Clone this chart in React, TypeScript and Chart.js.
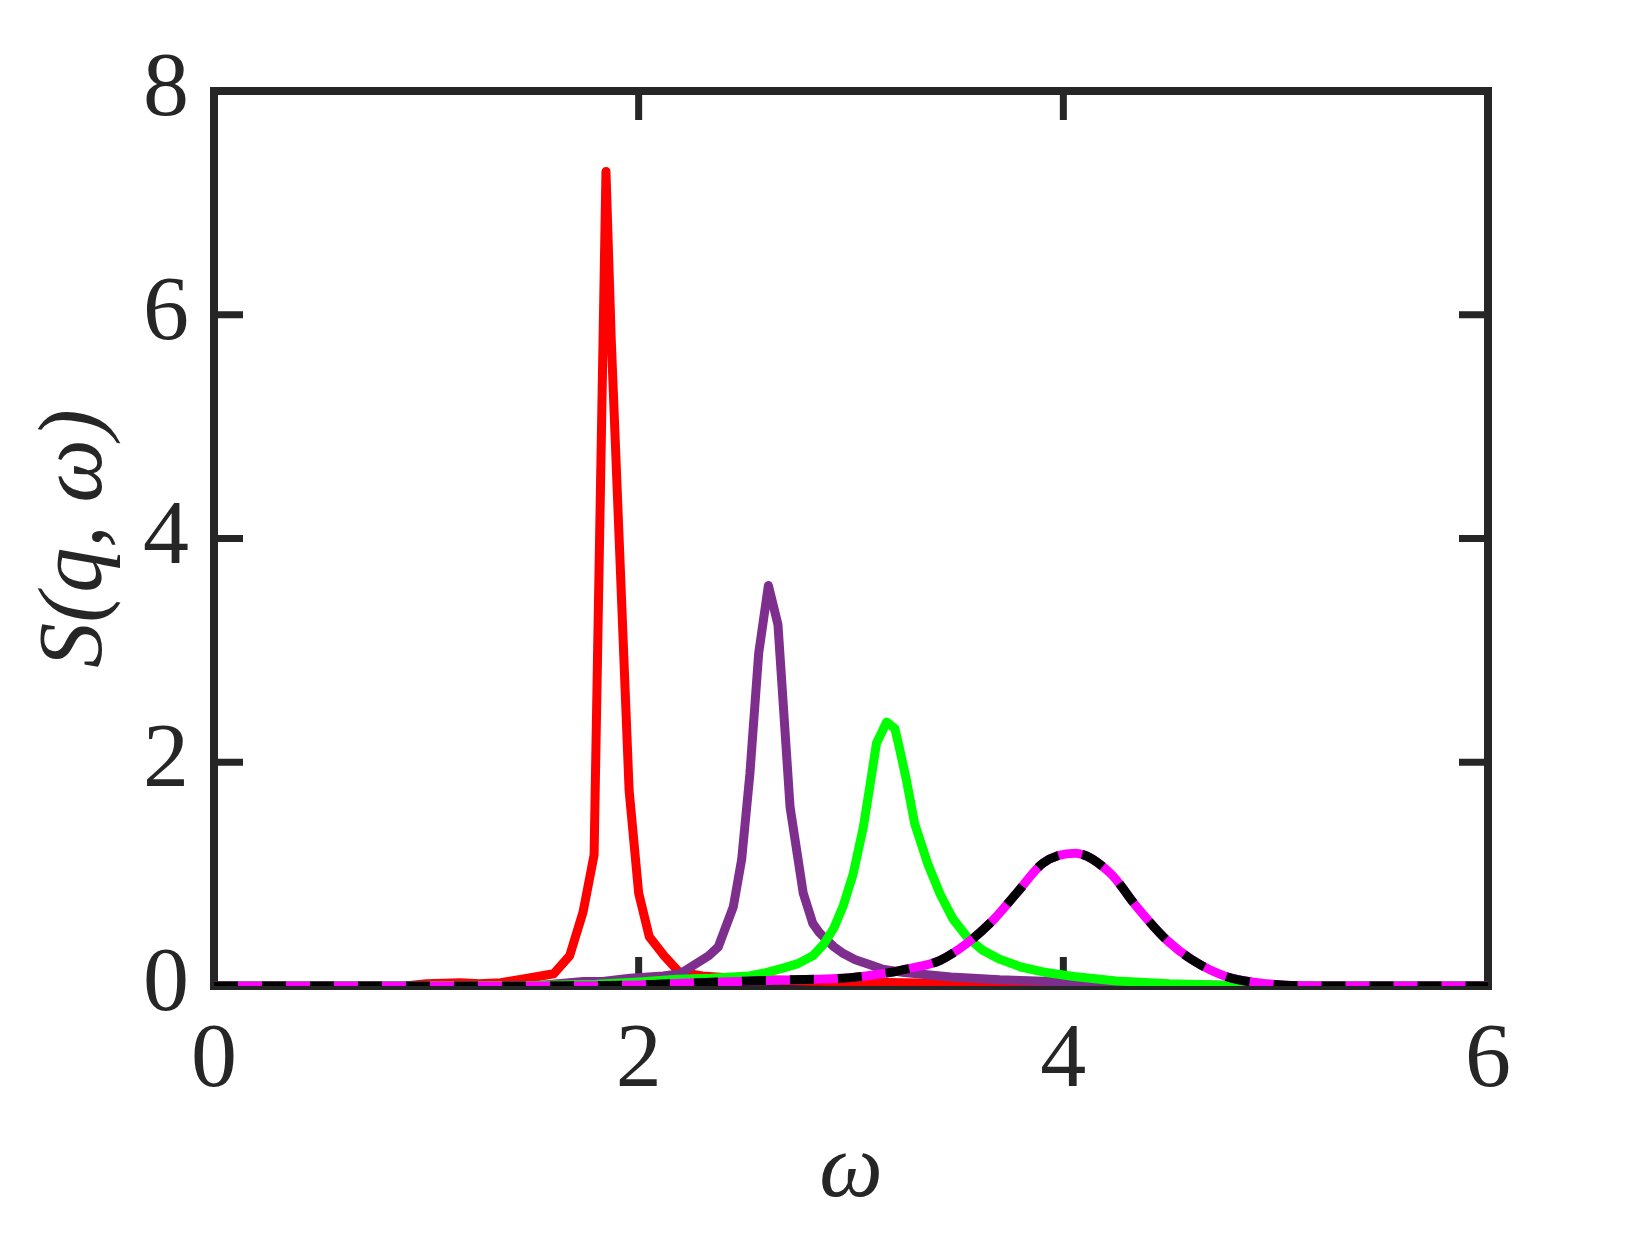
import React, { useEffect, useRef } from "react";
import { Chart, registerables } from "chart.js";

Chart.register(...registerables);

// ---- data ----
const redW = [0, 0.9, 1.0, 1.16, 1.25, 1.35, 1.45, 1.6, 1.675, 1.738, 1.79, 1.846, 1.871, 1.955, 2.0, 2.05, 2.12, 2.19, 2.3, 2.45, 2.7, 3.0, 3.5, 4.0, 4.5, 5.0, 6.0];
const redS = [0, 0, 0.02, 0.03, 0.02, 0.03, 0.06, 0.11, 0.27, 0.66, 1.17, 7.28, 5.77, 1.75, 0.83, 0.44, 0.27, 0.125, 0.09, 0.07, 0.05, 0.035, 0.022, 0.014, 0.008, 0, 0];

const purpleW = [0, 1.5, 1.74, 1.83, 1.96, 2.115, 2.195, 2.33, 2.375, 2.446, 2.485, 2.524, 2.565, 2.611, 2.656, 2.713, 2.775, 2.82, 2.85, 2.886, 2.92, 2.964, 3.02, 3.09, 3.15, 3.25, 3.47, 3.7, 3.94, 4.41, 5.0, 6.0];
const purpleS = [0, 0, 0.04, 0.04, 0.07, 0.09, 0.11, 0.27, 0.35, 0.71, 1.13, 1.9, 2.97, 3.58, 3.23, 1.6, 0.83, 0.56, 0.48, 0.41, 0.35, 0.29, 0.235, 0.19, 0.15, 0.12, 0.08, 0.055, 0.04, 0.015, 0, 0];

const greenW = [0, 1.5, 1.8, 2.0, 2.18, 2.34, 2.52, 2.6, 2.68, 2.75, 2.82, 2.87, 2.92, 2.964, 3.01, 3.058, 3.09, 3.12, 3.168, 3.207, 3.23, 3.26, 3.3, 3.36, 3.42, 3.48, 3.55, 3.62, 3.7, 3.8, 3.92, 4.05, 4.25, 4.5, 4.8, 5.0, 6.0];
const greenS = [0, 0.005, 0.015, 0.035, 0.06, 0.07, 0.09, 0.12, 0.16, 0.2, 0.27, 0.37, 0.52, 0.72, 1.0, 1.42, 1.8, 2.17, 2.36, 2.3, 2.11, 1.85, 1.45, 1.1, 0.82, 0.6, 0.43, 0.32, 0.24, 0.17, 0.12, 0.085, 0.045, 0.02, 0.005, 0, 0];

const fitW = [0, 1.5, 2.0, 2.2, 2.68, 3.0, 3.21, 3.26, 3.42, 3.545, 3.67, 3.78, 3.906, 4.055, 4.22, 4.345, 4.487, 4.61, 4.77, 4.96, 5.2, 6.0];
const fitS = [0, 0, 0.01, 0.024, 0.054, 0.075, 0.13, 0.15, 0.23, 0.38, 0.59, 0.83, 1.1, 1.186, 1.01, 0.71, 0.41, 0.23, 0.083, 0.02, 0, 0];

const xTickValues = [0, 2, 4, 6];
const yTickValues = [0, 2, 4, 6, 8];
const xTitle = "ω";
const yTitle = "S(q, ω)";

const AXIS = "#262626";
const SERIF = "'Liberation Serif', 'DejaVu Serif', serif";
const LW = 9;

function pts(w: number[], s: number[]) {
  return w.map((x, i) => ({ x, y: s[i] }));
}

const framePlugin = {
  id: "frame",
  beforeDatasetsDraw(chart: any) {
    const { ctx, chartArea: a, scales } = chart;
    const xs = scales.x;
    const ys = scales.y;
    ctx.save();
    ctx.strokeStyle = AXIS;
    ctx.lineWidth = 8;
    ctx.lineCap = "butt";
    ctx.strokeRect(a.left, a.top, a.right - a.left, a.bottom - a.top);
    ctx.lineWidth = 7;
    const tl = 29;
    ctx.beginPath();
    for (const v of xTickValues) {
      if (v === xs.min || v === xs.max) continue;
      const px = xs.getPixelForValue(v);
      ctx.moveTo(px, a.bottom);
      ctx.lineTo(px, a.bottom - tl);
      ctx.moveTo(px, a.top);
      ctx.lineTo(px, a.top + tl);
    }
    for (const v of yTickValues) {
      if (v === ys.min || v === ys.max) continue;
      const py = ys.getPixelForValue(v);
      ctx.moveTo(a.left, py);
      ctx.lineTo(a.left + tl, py);
      ctx.moveTo(a.right, py);
      ctx.lineTo(a.right - tl, py);
    }
    ctx.stroke();
    ctx.restore();
  },
};

export default function App() {
  const ref = useRef<HTMLCanvasElement | null>(null);

  useEffect(() => {
    document.body.style.margin = "0";
    const canvas = ref.current;
    if (!canvas) return;
    const chart = new Chart(canvas, {
      type: "line",
      data: {
        datasets: [
          {
            data: pts(redW, redS),
            borderColor: "#FF0000",
            borderWidth: LW,
            pointRadius: 0,
            borderJoinStyle: "round",
            borderCapStyle: "round",
            order: 5,
          },
          {
            data: pts(purpleW, purpleS),
            borderColor: "#7E2F8E",
            borderWidth: LW,
            pointRadius: 0,
            borderJoinStyle: "round",
            borderCapStyle: "round",
            order: 4,
          },
          {
            data: pts(greenW, greenS),
            borderColor: "#00FF00",
            borderWidth: LW,
            pointRadius: 0,
            borderJoinStyle: "round",
            borderCapStyle: "round",
            order: 3,
          },
          {
            data: pts(fitW, fitS),
            borderColor: "#FF00FF",
            borderWidth: LW,
            pointRadius: 0,
            cubicInterpolationMode: "monotone",
            borderJoinStyle: "round",
            order: 2,
          },
          {
            data: pts(fitW, fitS),
            borderColor: "#000000",
            borderWidth: LW,
            pointRadius: 0,
            borderDash: [24, 24],
            borderCapStyle: "butt",
            cubicInterpolationMode: "monotone",
            order: 1,
          },
        ],
      },
      options: {
        responsive: false,
        animation: false,
        devicePixelRatio: 1,
        layout: {
          autoPadding: false,
          padding: { top: 91, right: 156, left: 0, bottom: 0 },
        },
        plugins: {
          legend: { display: false },
          tooltip: { enabled: false },
        },
        scales: {
          x: {
            type: "linear",
            min: 0,
            max: 6,
            grid: { display: false, drawTicks: false },
            border: { display: false },
            ticks: {
              stepSize: 2,
              color: AXIS,
              padding: 21,
              font: { family: SERIF, size: 92 },
            },
            title: {
              display: true,
              text: xTitle,
              color: AXIS,
              font: { family: SERIF, size: 90, style: "italic" },
              padding: { top: 0, bottom: 7 },
            },
            afterFit(scale: any) {
              scale.height = 247;
            },
          },
          y: {
            type: "linear",
            min: 0,
            max: 8,
            grid: { display: false, drawTicks: false },
            border: { display: false },
            ticks: {
              stepSize: 2,
              color: AXIS,
              padding: 25,
              font: { family: SERIF, size: 92 },
            },
            title: {
              display: true,
              text: yTitle,
              color: AXIS,
              font: { family: SERIF, size: 90, style: "italic" },
              padding: { top: 23, bottom: 0 },
            },
            afterFit(scale: any) {
              scale.width = 214;
            },
          },
        },
      },
      plugins: [framePlugin],
    } as any);
    return () => chart.destroy();
  }, []);

  return (
    <div style={{ width: 1644, height: 1233, background: "#fff" }}>
      <canvas ref={ref} width={1644} height={1233} style={{ display: "block", width: 1644, height: 1233 }} />
    </div>
  );
}
